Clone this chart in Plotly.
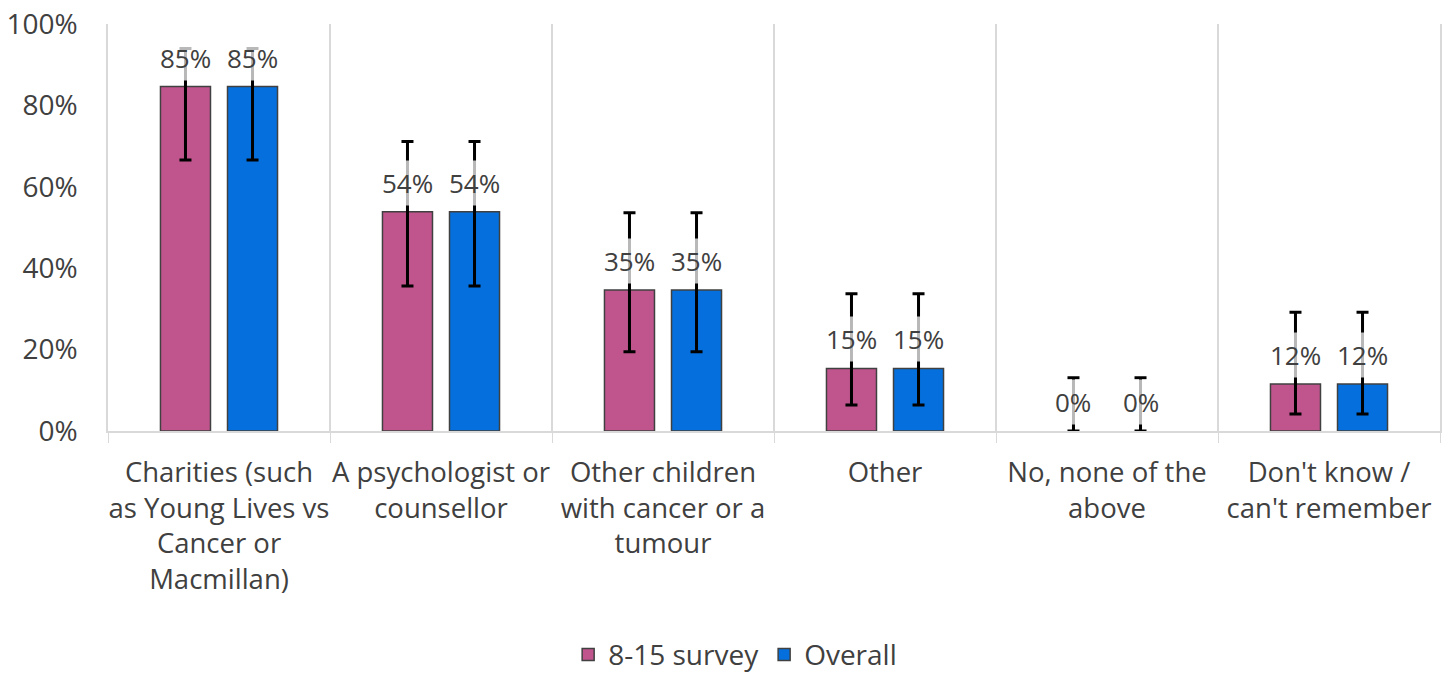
import plotly.graph_objects as go

# ---- data ----
categories = [
    "Charities (such<br>as Young Lives vs<br>Cancer or<br>Macmillan)",
    "A psychologist or<br>counsellor",
    "Other children<br>with cancer or a<br>tumour",
    "Other",
    "No, none of the<br>above",
    "Don't know /<br>can't remember",
]
series_names = ["8-15 survey", "Overall"]
survey_8_15 = [0.8462, 0.5385, 0.3462, 0.1538, 0.0, 0.1154]
overall = [0.8462, 0.5385, 0.3462, 0.1538, 0.0, 0.1154]
ci_upper = [0.940, 0.711, 0.536, 0.337, 0.131, 0.292]
ci_lower = [0.666, 0.356, 0.195, 0.064, 0.0, 0.042]
y_ticks = [0, 0.2, 0.4, 0.6, 0.8, 1.0]

# ---- style ----
colors = ["#C0558E", "#0570DD"]
font_family = "Open Sans"
text_color = "#404040"
grid_color = "#D9D9D9"

W, H = 1450, 675
margin = dict(l=108, r=10, t=24, b=244)
bargap = 0.396
bargroupgap = 0.254

plot_w = W - margin["l"] - margin["r"]
cat_w = plot_w / len(categories)
slot = cat_w * (1 - bargap) / 2
shifts = [-slot / 2, slot / 2]

fig = go.Figure()
for name, vals, col in zip(series_names, [survey_8_15, overall], colors):
    fig.add_trace(go.Bar(
        name=name,
        x=categories,
        y=vals,
        marker=dict(
            color=col,
            line=dict(color="#404040", width=[1.5 if v > 0 else 0 for v in vals]),
        ),
        error_y=dict(
            type="data",
            symmetric=False,
            array=[u - v for u, v in zip(ci_upper, vals)],
            arrayminus=[v - l for v, l in zip(vals, ci_lower)],
            color="black",
            thickness=3,
            width=6,
        ),
    ))

annotations = []
for si, vals in enumerate([survey_8_15, overall]):
    for cat, v in zip(categories, vals):
        annotations.append(dict(
            x=cat, y=v, xref="x", yref="y",
            text=f"{v:.0%}",
            showarrow=False,
            yanchor="bottom",
            yshift=6,
            xshift=shifts[si],
            font=dict(family=font_family, size=26, color=text_color),
            bgcolor="rgba(255,255,255,0.72)",
            borderpad=4,
        ))

fig.update_layout(
    width=W, height=H,
    margin=margin,
    paper_bgcolor="white",
    plot_bgcolor="white",
    barmode="group",
    bargap=bargap,
    bargroupgap=bargroupgap,
    font=dict(family=font_family, color=text_color),
    annotations=annotations,
    showlegend=True,
    legend=dict(
        orientation="h",
        xref="container", yref="container",
        x=0.507, xanchor="center",
        y=0.03, yanchor="middle",
        font=dict(size=28, color=text_color),
        itemclick=False,
    ),
    xaxis=dict(
        automargin=False,
        tickangle=0,
        tickson="boundaries",
        showgrid=True,
        gridcolor=grid_color,
        gridwidth=1.5,
        showline=True,
        linecolor=grid_color,
        linewidth=1.5,
        ticks="outside",
        ticklen=10,
        tickcolor=grid_color,
        tickfont=dict(size=27.5, color=text_color),
        ticklabelstandoff=16,
    ),
    yaxis=dict(
        automargin=False,
        range=[0, 1],
        tickvals=y_ticks,
        tickformat=".0%",
        showgrid=False,
        zeroline=False,
        showline=True,
        mirror=True,
        linecolor=grid_color,
        linewidth=1.5,
        tickfont=dict(size=28, color=text_color),
        ticklabelstandoff=23,
    ),
)

fig.write_html(
    "out.html",
    config={"displayModeBar": False},
    post_script="document.body.style.margin='0';document.body.style.overflow='hidden';",
)
